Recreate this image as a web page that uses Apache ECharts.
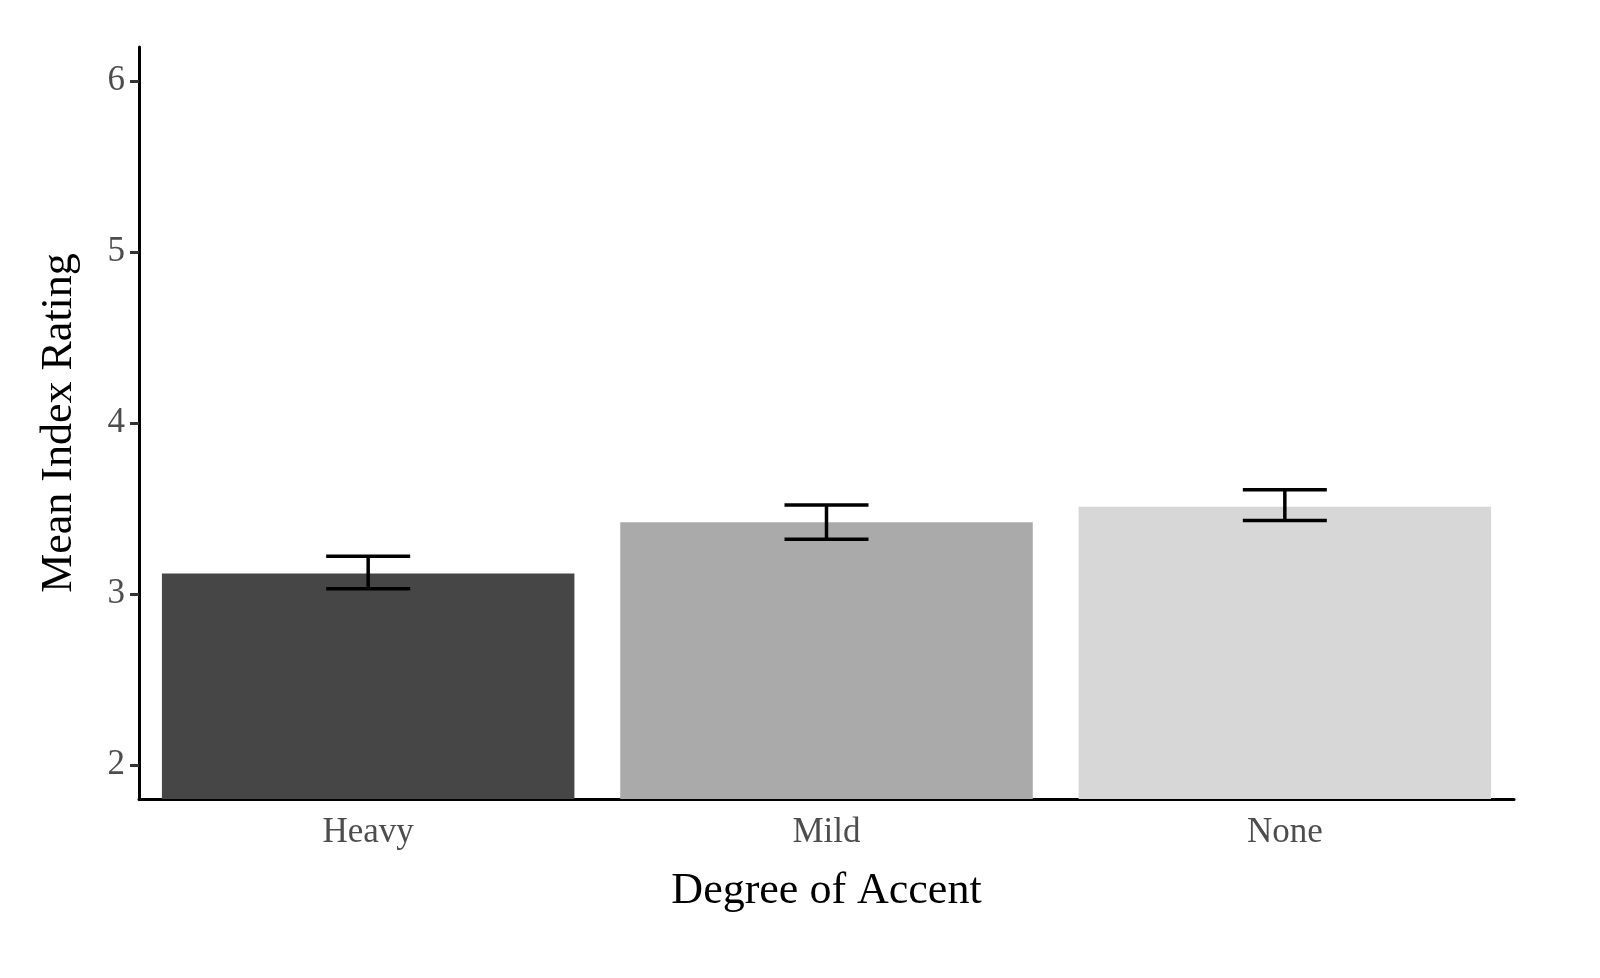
<!DOCTYPE html>
<html><head><meta charset="utf-8">
<script src="https://cdn.jsdelivr.net/npm/echarts@6/dist/echarts.min.js"></script>
<style>html,body{margin:0;padding:0;background:#fff}#c{width:1600px;height:978px}</style>
</head><body><div id="c"></div>
<script>
const categories = ['Heavy', 'Mild', 'None'];
const means = [3.12, 3.42, 3.51];
const errLow = [3.03, 3.32, 3.43];
const errHigh = [3.22, 3.52, 3.61];
const barColors = ['#464646', '#aaaaaa', '#d7d7d7'];
const yTicks = [2, 3, 4, 5, 6];

const chart = echarts.init(document.getElementById('c'));
const font = 'Liberation Serif';
chart.setOption({
  animation: false,
  grid: {left: 139, right: 86, top: 47, bottom: 179},
  xAxis: {
    type: 'category', data: categories,
    name: 'Degree of Accent', nameLocation: 'middle', nameGap: 70,
    nameTextStyle: {fontFamily: font, fontSize: 44, color: '#000'},
    axisLine: {lineStyle: {color: '#000', width: 3}},
    axisTick: {alignWithLabel: true, length: 9, lineStyle: {color: '#333', width: 3}},
    axisLabel: {fontFamily: font, fontSize: 35, color: '#4d4d4d', margin: 16}
  },
  yAxis: {
    type: 'value', min: 1.8, max: 6.2,
    name: 'Mean Index Rating', nameLocation: 'middle', nameGap: 58,
    nameTextStyle: {fontFamily: font, fontSize: 44, color: '#000'},
    splitLine: {show: false},
    axisLine: {show: true, lineStyle: {color: '#000', width: 3}},
    axisTick: {show: true, length: 9, customValues: yTicks, lineStyle: {color: '#333', width: 3}},
    axisLabel: {fontFamily: font, fontSize: 35, color: '#4d4d4d', margin: 14, customValues: yTicks}
  },
  series: [
    {type: 'bar', barWidth: '90%', data: means.map((v, i) => ({value: v, itemStyle: {color: barColors[i]}}))},
    {type: 'custom', z: 10,
     data: categories.map((c, i) => [i, errLow[i], errHigh[i]]),
     renderItem: (params, api) => {
       const lo = api.coord([api.value(0), api.value(1)]);
       const hi = api.coord([api.value(0), api.value(2)]);
       const hw = 42;
       const st = {stroke: '#000', lineWidth: 3.5};
       return {type: 'group', children: [
         {type: 'line', shape: {x1: lo[0], y1: lo[1], x2: hi[0], y2: hi[1]}, style: st},
         {type: 'line', shape: {x1: lo[0]-hw, y1: lo[1], x2: lo[0]+hw, y2: lo[1]}, style: st},
         {type: 'line', shape: {x1: hi[0]-hw, y1: hi[1], x2: hi[0]+hw, y2: hi[1]}, style: st}
       ]};
     }}
  ]
});
</script></body></html>
